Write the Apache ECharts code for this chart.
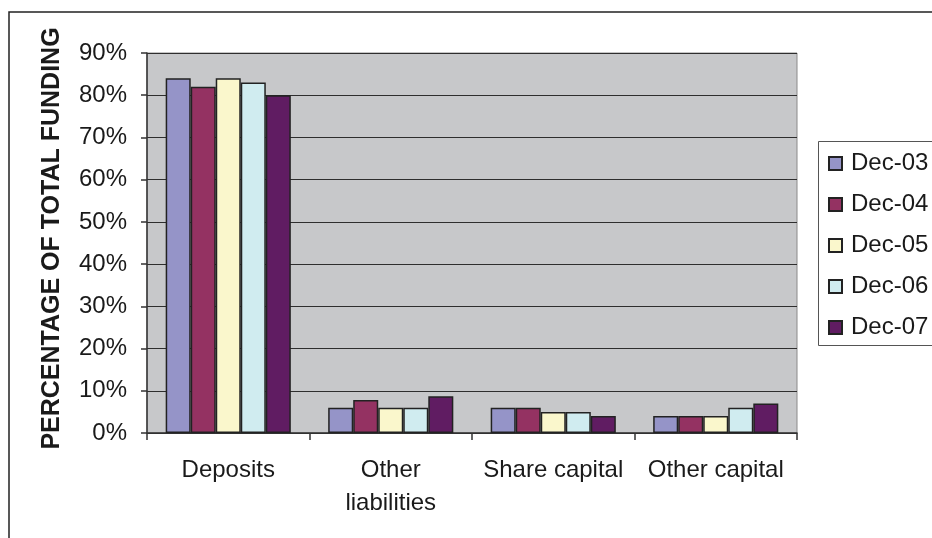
<!DOCTYPE html>
<html>
<head>
<meta charset="utf-8">
<script src="https://cdn.jsdelivr.net/npm/echarts@6/dist/echarts.min.js"></script>
<style>
  html, body { margin: 0; padding: 0; background: #ffffff; }
  #chart { width: 932px; height: 538px; }
</style>
</head>
<body>
<div id="chart"></div>
<script>
// Funding structure by source, share of total funding (%)
const categories = ['Deposits', 'Other liabilities', 'Share capital', 'Other capital'];
const seriesNames = ['Dec-03', 'Dec-04', 'Dec-05', 'Dec-06', 'Dec-07'];
const dec03 = [84, 6, 6, 4];
const dec04 = [82, 7.8, 6, 4];
const dec05 = [84, 6, 5, 4];
const dec06 = [83, 6, 5, 6];
const dec07 = [80, 8.7, 4, 7];
const yTicks = [0, 10, 20, 30, 40, 50, 60, 70, 80, 90];

const seriesValues = [dec03, dec04, dec05, dec06, dec07];
const seriesColors = ['#9594c8', '#943262', '#faf7cc', '#d0ecf0', '#601c62'];

const FONT = 'Liberation Sans, Arial, sans-serif';

const chart = echarts.init(document.getElementById('chart'), null, { renderer: 'canvas' });

chart.setOption({
  animation: false,
  backgroundColor: '#ffffff',
  textStyle: { fontFamily: FONT },
  grid: {
    left: 147, right: 135, top: 53, bottom: 105,
    show: true,
    backgroundColor: '#c7c8ca',
    borderColor: '#8a8a8a',
    borderWidth: 1
  },
  legend: {
    orient: 'vertical',
    left: 823,
    top: 145,
    itemWidth: 13,
    itemHeight: 13,
    itemGap: 14,
    icon: 'rect',
    data: seriesNames,
    textStyle: {
      fontFamily: FONT,
      fontSize: 24,
      color: '#1a1a1a',
      lineHeight: 27,
      padding: [0, 0, 0, 4]
    }
  },
  xAxis: {
    type: 'category',
    data: categories,
    axisLine: { lineStyle: { color: '#333333', width: 1.5 } },
    axisTick: { show: true, length: 7, lineStyle: { color: '#333333', width: 1.5 } },
    axisLabel: {
      interval: 0,
      margin: 21,
      fontFamily: FONT,
      fontSize: 24,
      lineHeight: 33,
      color: '#1a1a1a',
      formatter: function (v) { return v === 'Other liabilities' ? 'Other\nliabilities' : v; }
    }
  },
  yAxis: {
    type: 'value',
    min: yTicks[0],
    max: yTicks[yTicks.length - 1],
    interval: 10,
    name: 'PERCENTAGE OF TOTAL FUNDING',
    nameLocation: 'middle',
    nameGap: 82,
    nameRotate: 90,
    nameTextStyle: {
      fontFamily: FONT,
      fontSize: 25,
      fontWeight: 'bold',
      color: '#1a1a1a',
      padding: [0, 0, 0, 9]
    },
    axisLine: { show: true, lineStyle: { color: '#333333', width: 1.5 } },
    axisTick: { show: true, length: 6, lineStyle: { color: '#333333', width: 1.5 } },
    axisLabel: {
      margin: 20,
      fontFamily: FONT,
      fontSize: 24,
      color: '#1a1a1a',
      formatter: '{value}%'
    },
    splitLine: { show: true, lineStyle: { color: '#2e2e2e', width: 1 } }
  },
  series: seriesNames.map(function (name, i) {
    return {
      name: name,
      type: 'bar',
      data: seriesValues[i],
      barGap: '0%',
      barCategoryGap: '23%',
      itemStyle: {
        color: seriesColors[i],
        borderColor: '#222222',
        borderWidth: 1.5
      }
    };
  }),
  graphic: [
    {
      // outer frame of the figure
      type: 'rect',
      shape: { x: 9, y: 12, width: 1000, height: 1000 },
      style: { fill: 'none', stroke: '#222222', lineWidth: 1.5 },
      silent: true
    },
    {
      // legend frame
      type: 'rect',
      shape: { x: 818.5, y: 141.5, width: 200, height: 204 },
      style: { fill: 'none', stroke: '#555555', lineWidth: 1 },
      silent: true
    }
  ]
});
</script>
</body>
</html>
